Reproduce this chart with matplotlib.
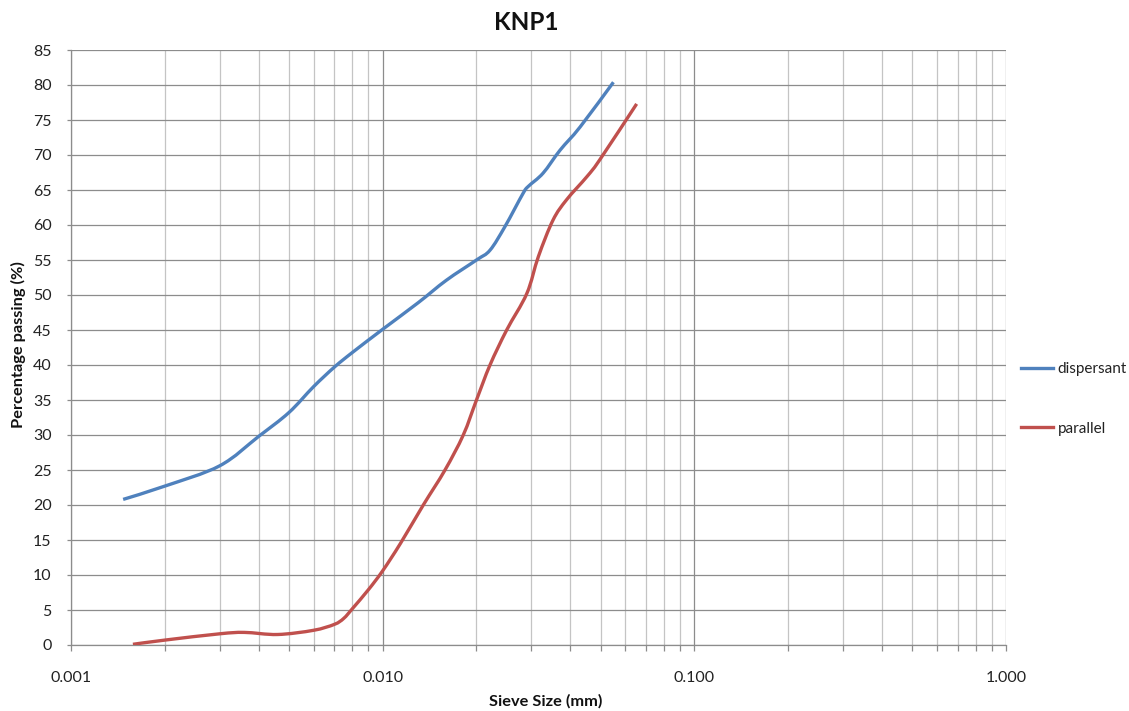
import matplotlib
matplotlib.use("Agg")
import numpy as np
import matplotlib.pyplot as plt
from matplotlib.path import Path
from matplotlib.patches import PathPatch
from matplotlib.lines import Line2D
from matplotlib.ticker import FixedLocator, LogLocator, NullFormatter, FixedFormatter

# Grain size distribution, KNP1
dispersant_size = [0.00147, 0.002, 0.003, 0.004, 0.005, 0.006, 0.007,
                   0.008, 0.010, 0.013, 0.016, 0.020, 0.0221, 0.0247,
                   0.0282, 0.0293, 0.0327, 0.0371, 0.0430, 0.0550]
dispersant_pass = [20.8, 22.7, 25.6, 29.8, 33.2, 36.9, 39.7,
                   41.8, 45.1, 48.9, 52.1, 55.0, 56.4, 59.8,
                   64.5, 65.5, 67.4, 70.7, 74.0, 80.4]

parallel_size = [0.00158, 0.002, 0.003, 0.0036, 0.0046, 0.006, 0.007, 0.0075,
                 0.008, 0.009, 0.010, 0.0114, 0.0135, 0.01585, 0.01814, 0.0200,
                 0.0221, 0.0250, 0.0290, 0.0316, 0.0352, 0.0389, 0.0452,
                 0.0497, 0.0653]
parallel_pass = [0.1, 0.7, 1.6, 1.8, 1.5, 2.1, 2.95, 3.8,
                 5.2, 7.9, 10.6, 14.5, 20.0, 25.0, 30.0, 35.0,
                 40.0, 45.0, 50.2, 55.5, 60.7, 63.6, 66.9,
                 69.3, 77.3]

x_ticks = [0.001, 0.01, 0.1, 1.0]
x_tick_labels = ["0.001", "0.010", "0.100", "1.000"]
y_ticks = list(range(0, 90, 5))

BLUE = '#4F81BD'
RED = '#C0504D'

plt.rcParams['font.family'] = ['Lato', 'DejaVu Sans']


def smooth_path(xs, ys):
    """Smoothed line through the points (Bezier segments, Catmull-Rom style),
    built in log-x space so the curve is smooth on the log axis."""
    lx = np.log10(np.asarray(xs, float))
    y = np.asarray(ys, float)
    n = len(lx)
    verts = [(xs[0], ys[0])]
    codes = [Path.MOVETO]
    for i in range(n - 1):
        i0 = max(i - 1, 0)
        i3 = min(i + 2, n - 1)
        c1x = lx[i] + (lx[i + 1] - lx[i0]) / 6.0
        c1y = y[i] + (y[i + 1] - y[i0]) / 6.0
        c2x = lx[i + 1] - (lx[i3] - lx[i]) / 6.0
        c2y = y[i + 1] - (y[i3] - y[i]) / 6.0
        verts += [(10 ** c1x, c1y), (10 ** c2x, c2y), (xs[i + 1], ys[i + 1])]
        codes += [Path.CURVE4] * 3
    return Path(verts, codes)


fig = plt.figure(figsize=(11.29, 7.11), dpi=100)
ax = fig.add_axes([71 / 1129, 1 - 645 / 711, (1006 - 71) / 1129, (645 - 50) / 711])

ax.set_xscale('log')
ax.set_xlim(0.001, 1.0)
ax.set_ylim(0, 85)

for xs, ys, col in [(dispersant_size, dispersant_pass, BLUE),
                    (parallel_size, parallel_pass, RED)]:
    ax.add_patch(PathPatch(smooth_path(xs, ys), facecolor='none', edgecolor=col,
                           lw=2.4, capstyle='butt', joinstyle='round', zorder=3))

ax.xaxis.set_major_locator(FixedLocator(x_ticks))
ax.xaxis.set_major_formatter(FixedFormatter(x_tick_labels))
ax.xaxis.set_minor_locator(LogLocator(base=10, subs=range(2, 10)))
ax.xaxis.set_minor_formatter(NullFormatter())
ax.yaxis.set_major_locator(FixedLocator(y_ticks))

major_c = '#8c8c8c'
minor_c = '#c4c4c4'
ax.grid(True, which='major', axis='both', color=major_c, lw=0.9)
ax.grid(True, which='minor', axis='x', color=minor_c, lw=0.9)
ax.set_axisbelow(True)

for side in ['left', 'bottom']:
    ax.spines[side].set_color(major_c)
    ax.spines[side].set_linewidth(0.9)
for side in ['top', 'right']:
    ax.spines[side].set_visible(False)

ax.tick_params(axis='both', which='both', color=major_c, width=0.9,
               labelcolor='#222222', labelsize=11.5)
ax.tick_params(axis='x', which='major', length=4, pad=15)
ax.tick_params(axis='x', which='minor', length=4)
ax.tick_params(axis='y', which='major', length=3, pad=11)

fig.text(526 / 1129, 1 - 22 / 711, 'KNP1', ha='center', va='center',
         fontsize=17.5, fontweight='bold', color='#111111')
fig.text(546 / 1129, 1 - 701 / 711, 'Sieve Size (mm)', ha='center', va='center',
         fontsize=11.8, fontweight='bold', color='#111111')
fig.text(18 / 1129, 1 - 345 / 711, 'Percentage passing (%)', ha='center', va='center',
         rotation=90, fontsize=11.8, fontweight='bold', color='#111111')

handles = [Line2D([], [], color=BLUE, lw=2.4), Line2D([], [], color=RED, lw=2.4)]
leg = fig.legend(handles, ['dispersant', 'parallel'], loc='upper left',
                 bbox_to_anchor=(1021 / 1129, 1 - 362 / 711),
                 frameon=False, fontsize=11, handlelength=2.1, handletextpad=0.3,
                 labelspacing=3.0, borderaxespad=0, borderpad=0)
for t in leg.get_texts():
    t.set_color('#222222')

fig.savefig('out.png', dpi=100)
